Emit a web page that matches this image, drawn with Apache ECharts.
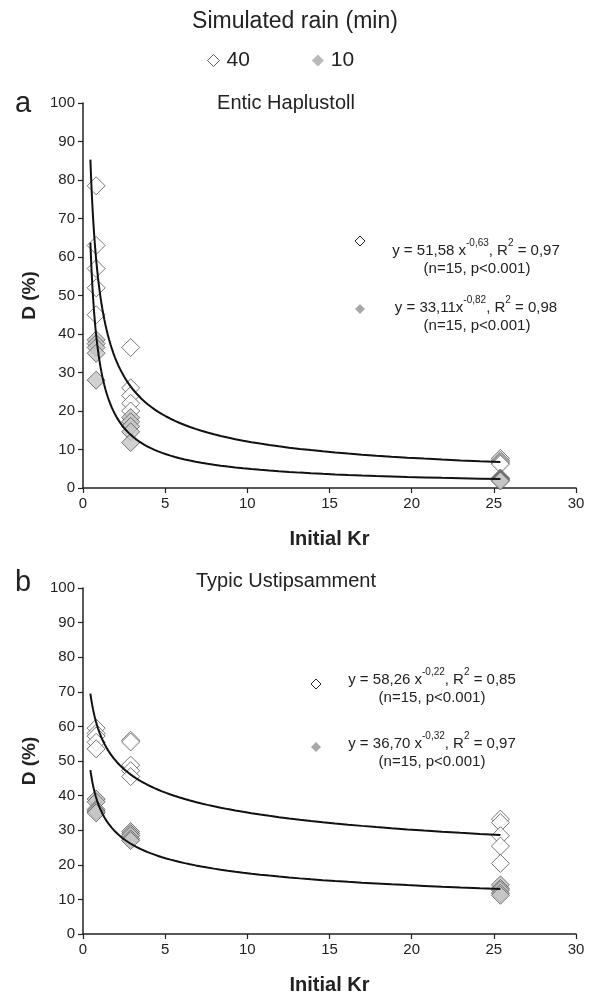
<!DOCTYPE html>
<html>
<head>
<meta charset="utf-8">
<script src="https://cdn.jsdelivr.net/npm/echarts@6/dist/echarts.min.js"></script>
<style>html,body{margin:0;padding:0;background:#fff}#c{width:594px;height:996px}</style>
</head>
<body>
<div id="c"></div>
<script>
// ---- data ----
const xTicks = [0, 5, 10, 15, 20, 25, 30];
const yTicks = [0, 10, 20, 30, 40, 50, 60, 70, 80, 90, 100];
const panelTitles = ['Entic Haplustoll', 'Typic Ustipsamment'];
const seriesNames = ['40', '10'];

// Panel a (Entic Haplustoll): [Initial Kr, D (%)]
const a40 = [[0.8,78.5],[0.8,63],[0.8,57],[0.8,52],[0.8,45],
             [2.9,36.5],[2.9,26],[2.9,24],[2.9,22],[2.9,20],
             [25.4,7.7],[25.4,7.2],[25.4,6.8],[25.4,6.5],[25.4,6.2]];
const a10 = [[0.8,38.5],[0.8,37.5],[0.8,36.5],[0.8,35],[0.8,28],
             [2.9,18.3],[2.9,17.2],[2.9,16],[2.9,14.6],[2.9,11.8],
             [25.4,2.6],[25.4,2.4],[25.4,2.2],[25.4,2.0],[25.4,1.8]];
// Panel b (Typic Ustipsamment)
const b40 = [[0.8,59.5],[0.8,58],[0.8,57.2],[0.8,55.4],[0.8,53.5],
             [2.9,56],[2.9,55.5],[2.9,48.8],[2.9,47.2],[2.9,45.5],
             [25.4,33.2],[25.4,32.2],[25.4,28.4],[25.4,25.4],[25.4,20.4]];
const b10 = [[0.8,39],[0.8,38.2],[0.8,36],[0.8,35.5],[0.8,35],
             [2.9,29.6],[2.9,29],[2.9,28.4],[2.9,27.5],[2.9,27],
             [25.4,14.2],[25.4,13.2],[25.4,12.7],[25.4,11.8],[25.4,11.2]];

// Power fits shown on the chart: y = coef * x^expo
const fitA40 = {coef: 51.58, expo: -0.63};
const fitA10 = {coef: 33.11, expo: -0.82};
const fitB40 = {coef: 58.26, expo: -0.22};
const fitB10 = {coef: 36.70, expo: -0.32};
const fitRange = [0.45, 25.4];

const eqA40 = ['y = 51,58 x', '-0,63', ', R', '2', ' = 0,97'];
const eqA10 = ['y = 33,11x', '-0,82', ', R', '2', ' = 0,98'];
const eqB40 = ['y = 58,26 x', '-0,22', ', R', '2', ' = 0,85'];
const eqB10 = ['y = 36,70 x', '-0,32', ', R', '2', ' = 0,97'];
const statText = '(n=15, p<0.001)';

// ---- build ----
function curve(f) {
  const pts = [];
  const n = 80;
  const l0 = Math.log(fitRange[0]), l1 = Math.log(fitRange[1]);
  for (let i = 0; i <= n; i++) {
    const x = Math.exp(l0 + (l1 - l0) * i / n);
    pts.push([x, f.coef * Math.pow(x, f.expo)]);
  }
  return pts;
}
const FONT = '"Liberation Sans", Arial, Helvetica, sans-serif';
const INK = '#222';
const OPEN = {color: '#ffffff', borderColor: '#555', borderWidth: 1};
const GRAY = {color: '#c6c6c6', borderColor: '#555', borderWidth: 1};

function xAxis(gi) {
  return {
    type: 'value', gridIndex: gi, min: 0, max: 30, interval: 5,
    name: 'Initial Kr', nameLocation: 'middle', nameGap: 41,
    nameTextStyle: {fontFamily: FONT, fontSize: 20, fontWeight: 'bold', color: INK},
    axisLine: {show: true, onZero: false, lineStyle: {color: INK, width: 1.5}},
    axisTick: {show: true, length: 5, lineStyle: {color: INK, width: 1.2}},
    axisLabel: {fontFamily: FONT, fontSize: 15, color: INK, margin: 8,
      formatter: v => xTicks.includes(v) ? String(v) : ''},
    splitLine: {show: false}
  };
}
function yAxis(gi) {
  return {
    type: 'value', gridIndex: gi, min: 0, max: 100, interval: 10,
    name: 'D (%)', nameLocation: 'middle', nameGap: 43, nameRotate: 90,
    nameTextStyle: {fontFamily: FONT, fontSize: 19, fontWeight: 'bold', color: INK},
    axisLine: {show: true, onZero: false, lineStyle: {color: INK, width: 1.5}},
    axisTick: {show: true, length: 5, lineStyle: {color: INK, width: 1.2}},
    axisLabel: {fontFamily: FONT, fontSize: 15, color: INK, margin: 8,
      formatter: v => yTicks.includes(v) ? String(v) : ''},
    splitLine: {show: false}
  };
}
function scatter(name, data, gi, style, z) {
  return {type: 'scatter', name, data, xAxisIndex: gi, yAxisIndex: gi,
    symbol: 'diamond', symbolSize: 18, itemStyle: style, z, silent: true};
}
function fitLine(f, gi) {
  return {type: 'line', data: curve(f), xAxisIndex: gi, yAxisIndex: gi,
    showSymbol: false, symbol: 'none', smooth: false, z: 5, silent: true,
    lineStyle: {color: '#111', width: 2}};
}
function diamond(cx, cy, r, fill, stroke) {
  return {type: 'polygon', shape: {points: [[cx, cy - r], [cx + r, cy], [cx, cy + r], [cx - r, cy]]},
    style: {fill, stroke, lineWidth: stroke === 'none' ? 0 : 1}, z: 10};
}
function eq(parts, cx, cy) {
  return {type: 'text', x: cx, y: cy, z: 10, style: {
    text: '{t|' + parts[0] + '}{s|' + parts[1] + '}{t|' + parts[2] + '}{s|' + parts[3] + '}{t|' + parts[4] + '}',
    align: 'center', verticalAlign: 'middle',
    rich: {
      t: {fontFamily: FONT, fontSize: 15, fill: INK, lineHeight: 20, verticalAlign: 'bottom'},
      s: {fontFamily: FONT, fontSize: 10, fill: INK, lineHeight: 20, verticalAlign: 'top'}
    }}};
}
function txt(text, cx, cy, size, weight, align) {
  return {type: 'text', x: cx, y: cy, z: 10, style: {text, fontFamily: FONT, fontSize: size,
    fontWeight: weight || 'normal', fill: INK, align: align || 'center', verticalAlign: 'middle'}};
}

const option = {
  backgroundColor: '#fff',
  animation: false,
  textStyle: {fontFamily: FONT},
  grid: [
    {left: 83, right: 18, top: 103, height: 385},
    {left: 83, right: 18, top: 588, height: 352}
  ],
  xAxis: [xAxis(0), xAxis(1)],
  yAxis: [yAxis(0), yAxis(1)],
  legend: {
    data: [
      {name: seriesNames[0], itemStyle: {color: '#fff', borderColor: '#333', borderWidth: 1}},
      {name: seriesNames[1], itemStyle: {color: '#a8a8a8', borderColor: '#a8a8a8', borderWidth: 0}}
    ],
    left: 202, top: 45, icon: 'diamond', itemWidth: 12, itemHeight: 12, itemGap: 62,
    selectedMode: false,
    textStyle: {fontFamily: FONT, fontSize: 21, color: INK, padding: [0, 0, 0, 2]}
  },
  series: [
    scatter(seriesNames[0], a40, 0, OPEN, 2),
    scatter(seriesNames[1], a10, 0, GRAY, 3),
    fitLine(fitA40, 0), fitLine(fitA10, 0),
    scatter(seriesNames[0], b40, 1, OPEN, 2),
    scatter(seriesNames[1], b10, 1, GRAY, 3),
    fitLine(fitB40, 1), fitLine(fitB10, 1)
  ],
  graphic: [
    txt('Simulated rain (min)', 295, 22, 23),
    txt('a', 23, 104, 29, 'normal'),
    txt(panelTitles[0], 286, 103, 20),
    txt('b', 23, 583, 29, 'normal'),
    txt(panelTitles[1], 286, 581, 20),
    diamond(360, 241, 5, '#fff', '#222'),
    eq(eqA40, 476, 248), txt(statText, 477, 269, 15),
    diamond(360, 309, 5, '#a8a8a8', 'none'),
    eq(eqA10, 476, 305), txt(statText, 477, 326, 15),
    diamond(316, 684, 5, '#fff', '#222'),
    eq(eqB40, 432, 677), txt(statText, 432, 698, 15),
    diamond(316, 747, 5, '#a8a8a8', 'none'),
    eq(eqB10, 432, 741), txt(statText, 432, 762, 15)
  ]
};
const chart = echarts.init(document.getElementById('c'), null, {renderer: 'canvas'});
chart.setOption(option);
</script>
</body>
</html>
